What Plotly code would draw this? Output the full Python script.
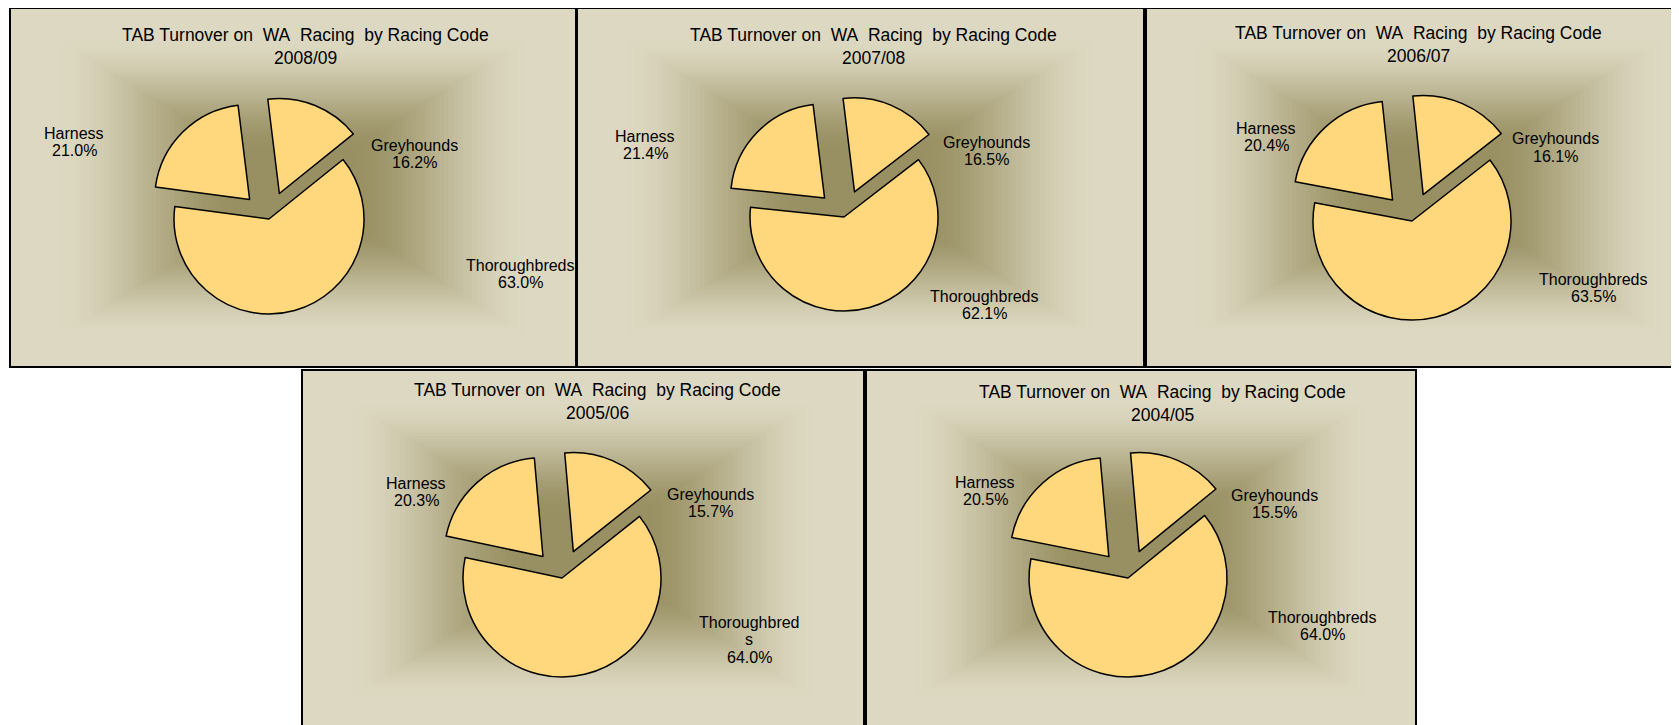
import plotly.graph_objects as go

W, H = 1679, 725
OFF = 8  # the page body adds an 8px margin, shift everything back by it

categories = ["Greyhounds", "Thoroughbreds", "Harness"]
years = ["2008/09", "2007/08", "2006/07", "2005/06", "2004/05"]
greyhounds = [16.2, 16.5, 16.1, 15.7, 15.5]
thoroughbreds = [63.0, 62.1, 63.5, 64.0, 64.0]
harness = [21.0, 21.4, 20.4, 20.3, 20.5]

title_text = "TAB Turnover on\u00a0 WA\u00a0 Racing\u00a0 by Racing Code"

# pixel layout of each panel (window coords): box, pie centre/radius, start angle,
# title spot, label spots (G, T, H)
panels = [
    dict(box=(10, 8, 576, 367), pie=(269, 219, 95), rot=-7, title=(305, 35),
         spots=[(414, 145), (520, 265), (74, 133)]),
    dict(box=(577, 8, 1144, 367), pie=(844, 217, 94), rot=-7, title=(873, 35),
         spots=[(986, 142), (984, 296), (645, 136)]),
    dict(box=(1146, 8, 1712, 367), pie=(1412, 221, 99), rot=-6, title=(1418, 33),
         spots=[(1555, 139), (1593, 279), (1266, 128)]),
    dict(box=(302, 370, 864, 729), pie=(562, 578, 99), rot=-5, title=(597, 390),
         spots=[(710, 494), (749, 622), (416, 483)]),
    dict(box=(866, 370, 1416, 729), pie=(1128, 578, 99), rot=-5, title=(1162, 392),
         spots=[(1274, 495), (1322, 617), (985, 482)]),
]
wrapped = {3: {"Thoroughbreds": ["Thoroughbred", "s"]}}

pulls = [0.29, 0.0, 0.29]
slice_color = "#ffd77c"
edge = (221, 216, 193)
dark = (152, 144, 98)
font = "Liberation Sans, Arial, sans-serif"
line_gap = 17.7


def shade(t):
    u = min(max((t - 0.15) / 0.65, 0), 1)
    u = u * u * (3 - 2 * u)
    c = [round(e + (d - e) * u) for e, d in zip(edge, dark)]
    return f"rgb({c[0]},{c[1]},{c[2]})"


def px(x):
    return (x - OFF) / W


def py(y):
    return 1 - (y - OFF) / H


def text_at(txt, x, y, size):
    # x, y = centre of the text line in window pixels
    return dict(text=txt, x=px(x), y=py(y), xref="paper", yref="paper",
                xanchor="center", yanchor="middle", showarrow=False,
                font=dict(family=font, size=size, color="black"))


fig = go.Figure()
shapes = []
annotations = []
N = 60

for i, p in enumerate(panels):
    x0, y0, x1, y1 = p["box"]
    cx, cy = (x0 + x1) / 2, (y0 + y1) / 2
    hw, hh = (x1 - x0) / 2, (y1 - y0) / 2
    # rectangular "from centre" gradient fill
    for k in range(N):
        s = 1 - k / N
        shapes.append(dict(type="rect", xref="paper", yref="paper",
                           x0=px(cx - hw * s), x1=px(cx + hw * s),
                           y0=py(cy + hh * s), y1=py(cy - hh * s),
                           fillcolor=shade(k / N), line_width=0, layer="below"))
    shapes.append(dict(type="rect", xref="paper", yref="paper",
                       x0=px(x0), x1=px(x1), y0=py(y1), y1=py(y0),
                       line=dict(color="black", width=2), fillcolor="rgba(0,0,0,0)"))

    pcx, pcy, r = p["pie"]
    d = 2 * r * (1 + max(pulls))
    vals = [greyhounds[i], thoroughbreds[i], harness[i]]
    fig.add_trace(go.Pie(
        labels=categories, values=vals, sort=False, direction="clockwise",
        rotation=p["rot"], pull=pulls, textinfo="none", showlegend=False,
        marker=dict(colors=[slice_color] * 3, line=dict(color="black", width=1.5)),
        domain=dict(x=[px(pcx - d / 2), px(pcx + d / 2)], y=[py(pcy + d / 2), py(pcy - d / 2)]),
    ))

    tx, ty = p["title"]
    annotations.append(text_at(title_text, tx, ty, 17.5))
    annotations.append(text_at(years[i], tx, ty + 23.3, 17.5))
    for name, v, (lx, ly) in zip(categories, vals, p["spots"]):
        lines = wrapped.get(i, {}).get(name, [name]) + [f"{v:.1f}%"]
        for j, ln in enumerate(lines):
            annotations.append(text_at(ln, lx, ly + j * line_gap, 16))

fig.update_layout(width=W, height=H, margin=dict(l=0, r=0, t=0, b=0),
                  paper_bgcolor="white", plot_bgcolor="white",
                  shapes=shapes, annotations=annotations)

fig.write_html("out.html")
